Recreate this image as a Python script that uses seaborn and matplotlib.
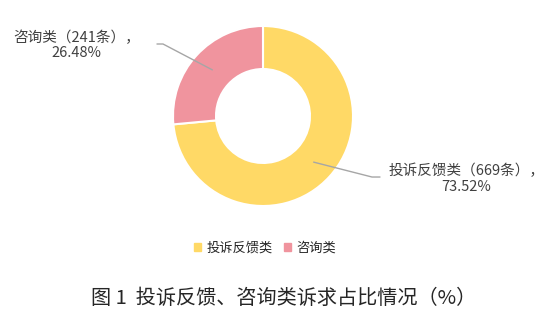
import numpy as np
import matplotlib
matplotlib.use("Agg")
import matplotlib.pyplot as plt
import seaborn as sns
from matplotlib.lines import Line2D

categories = ["投诉反馈类", "咨询类"]
counts = [669, 241]
percents = [73.52, 26.48]
colors = ["#FFD966", "#F0949E"]
title = "图 1  投诉反馈、咨询类诉求占比情况（%）"

sns.set_theme(style="white")
plt.rcParams['font.family'] = ['Noto Sans CJK SC', 'DejaVu Sans']

W, H = 551, 319
fig = plt.figure(figsize=(W / 100, H / 100), dpi=100)
cx, cy, R = 263, 116, 90
ax = fig.add_axes([(cx - R) / W, (H - cy - R) / H, 2 * R / W, 2 * R / H])

wedges, _ = ax.pie(counts, colors=colors, startangle=90, counterclock=False,
                   radius=1, wedgeprops=dict(width=0.478, edgecolor="white", linewidth=1.5))
ax.set_xlim(-1, 1)
ax.set_ylim(-1, 1)
ax.set_aspect("equal")
ax.axis("off")

txtc = "#404040"
linec = "#A6A6A6"
layout = {
    0: dict(elbow=(1.211, -0.678), end=(1.30, -0.678), text=(2.26, -0.70)),
    1: dict(elbow=(-1.111, 0.80), end=(-1.178, 0.80), text=(-2.07, 0.785)),
}
for i, w in enumerate(wedges):
    ang = np.deg2rad((w.theta1 + w.theta2) / 2)
    rmid = 1 - 0.478 / 2
    ax_pt = (rmid * np.cos(ang), rmid * np.sin(ang))
    L = layout[i]
    xs = [ax_pt[0], L["elbow"][0], L["end"][0]]
    ys = [ax_pt[1], L["elbow"][1], L["end"][1]]
    ax.add_line(Line2D(xs, ys, color=linec, lw=1, clip_on=False))
    ax.text(L["text"][0], L["text"][1],
            f"{categories[i]}（{counts[i]}条），\n{percents[i]:.2f}%",
            ha="center", va="center", fontsize=10.5, color=txtc,
            linespacing=1.15, clip_on=False)

handles = [plt.Rectangle((0, 0), 1, 1, color=c) for c in colors]
fig.legend(handles, categories, loc="center", bbox_to_anchor=(265 / W, 1 - 248 / H),
           ncol=2, frameon=False, fontsize=9.5, handlelength=0.6, handleheight=0.6,
           handletextpad=0.4, columnspacing=0.8, labelcolor="#262626")

fig.text(284 / W, 1 - 298 / H, title, ha="center", va="center", fontsize=14.5, color="#262626")

fig.savefig("out.png", dpi=100)
